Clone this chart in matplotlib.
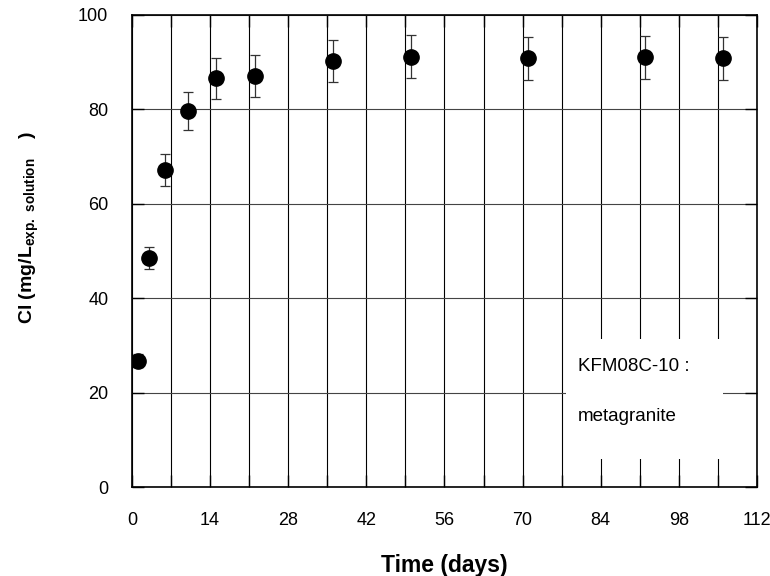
import matplotlib.pyplot as plt
from matplotlib.ticker import MultipleLocator
from matplotlib.patches import Rectangle

plt.rcParams['font.family'] = ['Liberation Sans', 'DejaVu Sans']
plt.rcParams['mathtext.fontset'] = 'custom'
plt.rcParams['mathtext.rm'] = 'Liberation Sans'
plt.rcParams['mathtext.bf'] = 'Liberation Sans:bold'

days = [1, 3, 6, 10, 15, 22, 36, 50, 71, 92, 106]
cl = [26.8, 48.5, 67.1, 79.7, 86.6, 87.1, 90.3, 91.2, 90.8, 91.0, 90.8]
cl_err = [1.3, 2.4, 3.4, 4.0, 4.3, 4.4, 4.5, 4.6, 4.5, 4.5, 4.5]

fig = plt.figure(figsize=(7.7, 5.76), dpi=100)
ax = fig.add_axes([0.1714, 0.1545, 0.8116, 0.8195])

ax.errorbar(days, cl, yerr=cl_err, fmt='o', color='black', markersize=11,
            ecolor='#333333', elinewidth=0.9, capsize=3.3, capthick=0.9, zorder=3)

ax.set_xlim(0, 112)
ax.set_ylim(0, 100)
ax.xaxis.set_major_locator(MultipleLocator(14))
ax.xaxis.set_minor_locator(MultipleLocator(7))
ax.yaxis.set_major_locator(MultipleLocator(20))
ax.grid(True, which='both', axis='x', color='black', linewidth=0.8)
ax.grid(True, which='major', axis='y', color='#444444', linewidth=0.8)
ax.tick_params(which='major', direction='in', length=8.5, width=1.0, top=True, right=True, labelsize=13)
ax.tick_params(axis='x', which='major', pad=18)
ax.tick_params(axis='y', which='major', pad=17)
ax.tick_params(which='minor', direction='in', length=8.5, width=1.0, top=True)
for s in ax.spines.values():
    s.set_linewidth(1.2)

# white label box
ax.add_patch(Rectangle((0.694, 0.059), 0.252, 0.255, transform=ax.transAxes,
                       facecolor='white', edgecolor='none', zorder=2.5))
ax.text(0.714, 0.256, 'KFM08C-10 :', transform=ax.transAxes, fontsize=13.5, va='center', zorder=4)
ax.text(0.714, 0.150, 'metagranite', transform=ax.transAxes, fontsize=13.5, va='center', zorder=4)

ax.set_xlabel('Time (days)', fontsize=16.5, fontweight='bold', labelpad=18)
ax.set_ylabel(r'Cl (mg/L$_{\mathbf{exp.\ solution}}\quad$)', fontsize=14, fontweight='bold')
ax.yaxis.set_label_coords(-0.146, 0.549)

fig.savefig('out.png', dpi=100)
